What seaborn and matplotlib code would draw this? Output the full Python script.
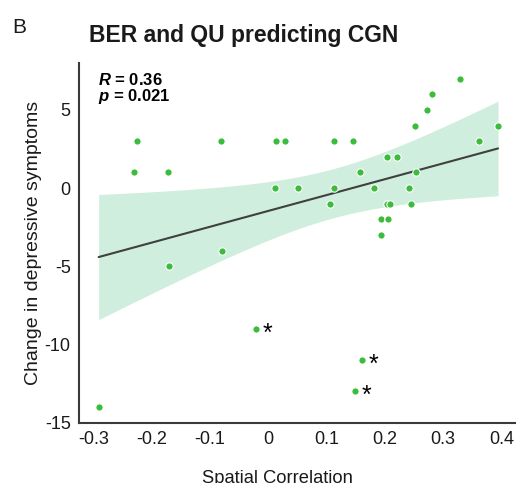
import numpy as np
import pandas as pd
import matplotlib
matplotlib.use("Agg")
import matplotlib.pyplot as plt
import seaborn as sns

# spatial correlation vs change in depressive symptoms
spatial_corr = [-0.291, -0.231, -0.225, -0.172, -0.170, -0.081, -0.080, -0.021,
                0.012, 0.013, 0.029, 0.051, 0.105, 0.112, 0.113, 0.146,
                0.148, 0.157, 0.160, 0.181, 0.193, 0.194, 0.203, 0.204,
                0.206, 0.209, 0.220, 0.241, 0.244, 0.251, 0.253, 0.272,
                0.280, 0.329, 0.361, 0.394]
symptom_change = [-14, 1, 3, 1, -5, 3, -4, -9,
                  0, 3, 3, 0, -1, 3, 0, 3,
                  -13, 1, -11, 0, -2, -3, 2, -1,
                  -2, -1, 2, 0, -1, 4, 1, 5,
                  6, 7, 3, 4]
# points marked with an asterisk
starred = [False, False, False, False, False, False, False, True,
           False, False, False, False, False, False, False, False,
           True, False, True, False, False, False, False, False,
           False, False, False, False, False, False, False, False,
           False, False, False, False]
x_ticks = [-0.3, -0.2, -0.1, 0, 0.1, 0.2, 0.3, 0.4]
x_tick_labels = ["-0.3", "-0.2", "-0.1", "0", "0.1", "0.2", "0.3", "0.4"]
y_ticks = [-15, -10, -5, 0, 5]

df = pd.DataFrame({"x": spatial_corr, "y": symptom_change, "star": starred})

# analytic 95% CI of the fitted line (t for df = n - 2)
x = df["x"].to_numpy()
y = df["y"].to_numpy()
n = len(x)
slope, intercept = np.polyfit(x, y, 1)
resid = y - (slope * x + intercept)
s_err = np.sqrt(np.sum(resid ** 2) / (n - 2))
t_crit = 2.032
grid = np.linspace(x.min(), x.max(), 100)
se_fit = s_err * np.sqrt(1 / n + (grid - x.mean()) ** 2 / np.sum((x - x.mean()) ** 2))
fit = slope * grid + intercept

sns.set_style("white")
plt.rcParams["font.family"] = ["Liberation Sans", "DejaVu Sans"]
plt.rcParams["axes.unicode_minus"] = False
plt.rcParams["mathtext.fontset"] = "custom"
plt.rcParams["mathtext.it"] = "Liberation Sans:italic:bold"
plt.rcParams["mathtext.rm"] = "Liberation Sans:bold"

green = "#3cbb3c"
spine_col = "#3a3a3a"
text_col = "#1a1a1a"

fig = plt.figure(figsize=(5.16, 4.83), dpi=100)
ax = fig.add_axes([0.1531, 0.1252, 0.847, 0.7444])

ax.fill_between(grid, fit - t_crit * se_fit, fit + t_crit * se_fit,
                color="#cfeedd", lw=0, zorder=1)
sns.regplot(data=df, x="x", y="y", scatter=False, ax=ax, ci=None,
            line_kws={"color": "#404040", "lw": 1.5, "zorder": 2})

sns.scatterplot(data=df, x="x", y="y", ax=ax, color=green, s=28,
                edgecolor="white", linewidth=0.8, zorder=5)

for _, r in df[df["star"]].iterrows():
    ax.annotate("*", (r["x"], r["y"]), xytext=(5, -3.5), textcoords="offset points",
                fontsize=18, ha="left", va="center", color="black")

ax.text(0.043, 0.975, r"$R$ = 0.36" + "\n" + r"$p$ = 0.021", transform=ax.transAxes,
        fontsize=12, fontweight="bold", va="top", ha="left", linespacing=0.95,
        color="black")

ax.set_xlim(-0.3247, 0.4249)
ax.set_ylim(-15, 8)
ax.set_xticks(x_ticks)
ax.set_xticklabels(x_tick_labels)
ax.set_yticks(y_ticks)
ax.tick_params(direction="in", length=4, width=1, color=spine_col,
               labelsize=13, pad=6, labelcolor=text_col)
for side in ["top", "right"]:
    ax.spines[side].set_visible(False)
for side in ["left", "bottom"]:
    ax.spines[side].set_color(spine_col)
    ax.spines[side].set_linewidth(1.5)

ax.set_xlabel("Spatial Correlation", fontsize=13.2, color=text_col)
ax.set_ylabel("Change in depressive symptoms", fontsize=14, color=text_col)
ax.xaxis.set_label_coords(0.455, -0.131)
ax.yaxis.set_label_coords(-0.085, 0.5)

fig.text(0.023, 0.932, "B", fontsize=15, color=text_col)
fig.text(0.172, 0.913, "BER and QU predicting CGN", fontsize=16.5, fontweight="bold",
         color=text_col)

fig.savefig("out.png", dpi=100)
